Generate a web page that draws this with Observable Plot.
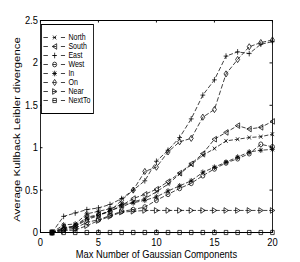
<!DOCTYPE html>
<html><head><meta charset="utf-8">
<script src="https://cdn.jsdelivr.net/npm/d3@7"></script>
<script src="https://cdn.jsdelivr.net/npm/@observablehq/plot@0.6"></script>
<style>
body{margin:0;background:#fff;}
#wrap{position:relative;width:300px;height:262px;overflow:hidden;background:#fff;}
#legend{position:absolute;left:41px;top:24px;line-height:0;}
</style></head><body><div id="wrap"></div>
<script>
// ---- data ----
const components = [1,2,3,4,5,6,7,8,9,10,11,12,13,14,15,16,17,18,19,20];
const north  = [0,0.06,0.07,0.17,0.20,0.26,0.30,0.36,0.40,0.48,0.57,0.69,0.80,0.91,0.99,1.08,1.10,1.12,1.13,1.16];
const south  = [0,0.05,0.08,0.18,0.21,0.25,0.32,0.40,0.45,0.51,0.60,0.70,0.81,0.93,1.10,1.18,1.26,1.22,1.24,1.31];
const east   = [0,0.19,0.23,0.27,0.29,0.33,0.40,0.50,0.61,0.84,0.97,1.12,1.34,1.62,1.80,2.08,2.13,2.11,2.22,2.25];
const west   = [0,0.03,0.05,0.12,0.15,0.20,0.25,0.27,0.30,0.38,0.45,0.52,0.58,0.67,0.75,0.82,0.87,0.93,1.04,1.01];
const inn    = [0,0.09,0.10,0.22,0.25,0.28,0.33,0.35,0.38,0.42,0.49,0.55,0.61,0.71,0.77,0.83,0.89,0.95,0.97,0.98];
const on     = [0,0.04,0.07,0.15,0.20,0.25,0.38,0.50,0.72,0.77,0.95,1.07,1.11,1.36,1.45,1.87,2.04,2.19,2.24,2.27];
const near   = [0,0.02,0.03,0.08,0.14,0.19,0.24,0.25,0.26,0.26,0.26,0.26,0.26,0.26,0.26,0.26,0.26,0.26,0.26,0.26];
const nextTo = [0,0,0,0,0,0,0,0,0,0,0,0,0,0,0,0,0,0,0,0];
const seriesNames = ["North","South","East","West","In","On","Near","NextTo"];
const seriesValues = [north, south, east, west, inn, on, near, nextTo];
const xTicks = [0,5,10,15,20];
const yTicks = [0,0.5,1,1.5,2,2.5];
const xLabel = "Max Number of Gaussian Components";
const yLabel = "Average Kullback Leibler divergence";

// ---- symbols (MATLAB-like, hollow) ----
function poly(pts){return {draw(c,size){const r=Math.sqrt(size/Math.PI);c.moveTo(pts[0][0]*r,pts[0][1]*r);for(let i=1;i<pts.length;i++)c.lineTo(pts[i][0]*r,pts[i][1]*r);c.closePath();}};}
function segs(list){return {draw(c,size){const r=Math.sqrt(size/Math.PI);for(const s of list){c.moveTo(s[0]*r,s[1]*r);c.lineTo(s[2]*r,s[3]*r);}}};}
const s7=0.707;
const symTimes = segs([[-s7,-s7,s7,s7],[-s7,s7,s7,-s7]]);
const symPlus = segs([[-1,0,1,0],[0,-1,0,1]]);
const symStar = segs([[-1,0,1,0],[0,-1,0,1],[-s7,-s7,s7,s7],[-s7,s7,s7,-s7]]);
const symCircle = {draw(c,size){const r=Math.sqrt(size/Math.PI)*0.85;c.moveTo(r,0);c.arc(0,0,r,0,2*Math.PI);}};
const symDiamond = poly([[0,-1.1],[0.85,0],[0,1.1],[-0.85,0]]);
const symLeft = poly([[-1,0],[0.85,-1],[0.85,1]]);
const symRight = poly([[1,0],[-0.85,-1],[-0.85,1]]);
const symSquare = poly([[-0.75,-0.75],[0.75,-0.75],[0.75,0.75],[-0.75,0.75]]);
const symbols = [symTimes, symLeft, symPlus, symCircle, symStar, symDiamond, symRight, symSquare];

const rows = seriesNames.flatMap((name,i)=>components.map((c,j)=>({name, x:c, y:seriesValues[i][j]})));

// horizontal compression of the original figure
const FW = 300, FH = 262, W = 353, k = FW/W;
const mL = 40/k, mR = 28/k, mT = 20, mB = 30;
const fontFamily = "'Liberation Sans', Arial, Helvetica, sans-serif";

const chart = Plot.plot({
  width: W, height: FH,
  marginLeft: mL, marginRight: mR, marginTop: mT, marginBottom: mB,
  style: {fontFamily, fontSize: "11px", background: "white", color: "black"},
  x: {domain: [0,20]},
  y: {domain: [0,2.5]},
  marks: [
    Plot.axisX(xTicks, {tickSize: 0, tickPadding: 6, tickFormat: d=>String(d), label: null, fontSize: 11}),
    Plot.axisY(yTicks, {tickSize: 0, tickPadding: 3, tickFormat: d=>String(d), label: null, fontSize: 11}),
    Plot.text([xLabel], {frameAnchor: "bottom", textAnchor: "middle", lineAnchor: "bottom", dy: 25, text: d=>d, fontSize: 11, fill: "black"}),
    Plot.text([yLabel], {frameAnchor: "left", textAnchor: "middle", lineAnchor: "top", rotate: -90, dx: -32, dy: 3, text: d=>d, fontSize: 11.4, fill: "black"}),
    Plot.ruleX(xTicks, {x: d=>d, y1: 0, y2: 0.03, stroke: "black", strokeWidth: 1}),
    Plot.ruleX(xTicks, {x: d=>d, y1: 2.5, y2: 2.47, stroke: "black", strokeWidth: 1}),
    Plot.ruleY(yTicks, {y: d=>d, x1: 0, x2: 0.215, stroke: "black", strokeWidth: 1}),
    Plot.ruleY(yTicks, {y: d=>d, x1: 20, x2: 19.785, stroke: "black", strokeWidth: 1}),
    Plot.line(rows, {x: "x", y: "y", z: "name", stroke: "black", strokeWidth: 0.8, strokeDasharray: "4,3"}),
    ...seriesNames.map((name,i)=>Plot.dot(rows.filter(r=>r.name===name), {x: "x", y: "y", symbol: symbols[i], r: 2.8, stroke: "black", fill: "none", strokeWidth: 0.8})),
    Plot.frame({stroke: "black", strokeWidth: 1})
  ]
});
function squeeze(svg, w, h, fullW){
  svg.setAttribute("viewBox", `0 0 ${fullW} ${h}`);
  svg.setAttribute("width", w);
  svg.setAttribute("height", h);
  svg.setAttribute("preserveAspectRatio", "none");
  svg.style.width = w + "px";
  svg.style.height = h + "px";
  svg.style.maxWidth = "none";
}
squeeze(chart, FW, FH, W);
document.getElementById("wrap").appendChild(chart);

// ---- legend ----
const LW = 52, LH = 89;
const legend = Plot.plot({
  width: LW/k, height: LH, margin: 0,
  style: {fontFamily, fontSize: "8.3px", background: "white", color: "black", overflow: "visible"},
  x: {domain: [0, LW], range: [0.5, LW/k - 0.5], axis: null},
  y: {type: "point", domain: seriesNames, range: [5.8, 83.2], axis: null},
  marks: [
    Plot.frame({stroke: "black", strokeWidth: 1, fill: "white"}),
    Plot.ruleY(seriesNames, {y: d=>d, x1: 2, x2: 24, stroke: "black", strokeWidth: 0.8, strokeDasharray: "5.3,5.6,4,5.7,5.3"}),
    ...seriesNames.map((name,i)=>Plot.dot([name], {x: 13, y: d=>d, symbol: symbols[i], r: 2.8, stroke: "black", fill: "none", strokeWidth: 0.8})),
    Plot.text(seriesNames, {x: 27, y: d=>d, text: d=>d, textAnchor: "start", fill: "black", fontSize: 8.3})
  ]
});
squeeze(legend, LW, LH, LW/k);
legend.id = "legend";
document.getElementById("wrap").appendChild(legend);
</script></body></html>
